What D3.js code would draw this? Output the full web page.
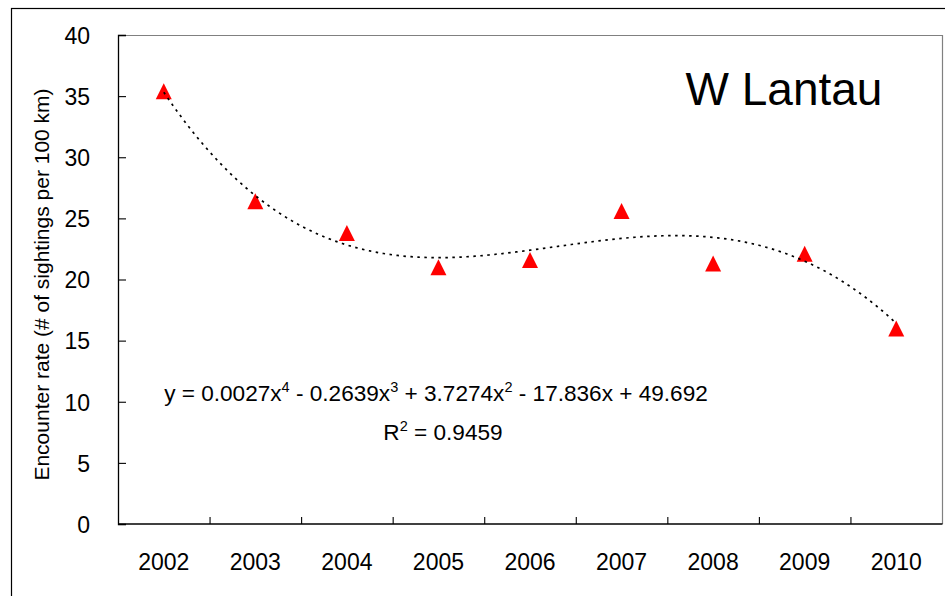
<!DOCTYPE html>
<html>
<head>
<meta charset="utf-8">
<script src="https://cdn.jsdelivr.net/npm/d3@7/dist/d3.min.js"></script>
<style>
  html, body { margin: 0; padding: 0; background: #fff; }
  svg { display: block; }
  text { font-family: "Liberation Sans", Arial, sans-serif; fill: #000; }
</style>
</head>
<body>
<svg id="chart" width="945" height="596"></svg>
<script>
// ---- data ----
const years = ["2002", "2003", "2004", "2005", "2006", "2007", "2008", "2009", "2010"];
const encounterRate = [35.4, 26.4, 23.8, 21.0, 21.6, 25.6, 21.3, 22.1, 16.0];
const yTicks = [0, 5, 10, 15, 20, 25, 30, 35, 40];
// 4th-order polynomial trendline coefficients shown on the chart (x = 1..9), highest power first
const trendCoef = [0.0027, -0.2639, 3.7274, -17.836, 49.692];
const titleText = "W Lantau";
const yAxisTitle = "Encounter rate (# of sightings per 100 km)";

// ---- layout ----
const svg = d3.select("#chart");
const L = 118, R = 942, T = 35, B = 524;

const x = d3.scaleBand().domain(years).range([L, R]).paddingInner(0).paddingOuter(0);
const y = d3.scaleLinear().domain([0, 40]).range([B, T]);
const xNum = d3.scaleLinear().domain([1, years.length])
  .range([x(years[0]) + x.bandwidth() / 2, x(years[years.length - 1]) + x.bandwidth() / 2]);

// outer chart border
svg.append("rect").attr("x", 11.5).attr("y", 8.5).attr("width", 1000).attr("height", 1000)
  .attr("fill", "none").attr("stroke", "#000").attr("stroke-width", 1.2);

// plot area top/right border (gray)
svg.append("path")
  .attr("d", `M${L},${T + 0.5}H${R + 0.5}V${B}`)
  .attr("fill", "none").attr("stroke", "#808080").attr("stroke-width", 1.2);

// y axis
const yAxis = svg.append("g").attr("transform", `translate(${L},0)`)
  .call(d3.axisLeft(y).tickValues(yTicks).tickSize(-8).tickPadding(28).tickFormat(d3.format("d")));
yAxis.select(".domain").attr("stroke", "#000").attr("stroke-width", 1.3);
yAxis.selectAll(".tick line").attr("stroke", "#000").attr("stroke-width", 1.1);
yAxis.selectAll(".tick text").attr("font-size", 23).attr("font-family", "Liberation Sans, Arial, sans-serif")
  .attr("fill", "#000").attr("dy", "0.36em");

// x axis (ticks at category boundaries, pointing inward)
const xAxisG = svg.append("g").attr("transform", `translate(0,${B})`);
xAxisG.append("line").attr("x1", L).attr("x2", R + 0.5).attr("y1", 0).attr("y2", 0)
  .attr("stroke", "#000").attr("stroke-width", 1.3);
xAxisG.selectAll("line.bt").data(years.slice(1))
  .join("line").attr("class", "bt")
  .attr("x1", d => x(d) + 0.5).attr("x2", d => x(d) + 0.5)
  .attr("y1", 0).attr("y2", -7).attr("stroke", "#000").attr("stroke-width", 1.1);
xAxisG.selectAll("text").data(years).join("text")
  .attr("x", d => x(d) + x.bandwidth() / 2)
  .attr("y", 46)
  .attr("text-anchor", "middle")
  .attr("font-size", 23)
  .text(d => d);

// y axis title
svg.append("text")
  .attr("transform", `translate(49,${(T + B) / 2 + 5}) rotate(-90)`)
  .attr("text-anchor", "middle")
  .attr("font-size", 21)
  .text(yAxisTitle);

// chart title
svg.append("text").attr("x", 784).attr("y", 105).attr("text-anchor", "middle")
  .attr("font-size", 46).text(titleText);

// data points (red triangles)
const tri = {
  draw(ctx, size) {
    const h = Math.sqrt(size) / 2;
    ctx.moveTo(0, -h);
    ctx.lineTo(h, h);
    ctx.lineTo(-h, h);
    ctx.closePath();
  }
};
svg.append("g").selectAll("path").data(encounterRate).join("path")
  .attr("transform", (d, i) => `translate(${x(years[i]) + x.bandwidth() / 2},${y(d)})`)
  .attr("d", d3.symbol(tri, 256))
  .attr("fill", "#ff0000");

// trendline (dotted) from the displayed polynomial
const poly = t => trendCoef.reduce((acc, c) => acc * t + c, 0);
const ts = d3.range(1, years.length + 0.001, 0.05);
svg.append("path")
  .datum(ts)
  .attr("d", d3.line().x(t => xNum(t)).y(t => y(poly(t))).curve(d3.curveMonotoneX))
  .attr("fill", "none").attr("stroke", "#000").attr("stroke-width", 1.7)
  .attr("stroke-dasharray", "2.5,4.5");

// equation text
const eq = svg.append("text").attr("x", 436).attr("y", 401).attr("text-anchor", "middle").attr("font-size", 22.6);
const parts = [["y = 0.0027x", "4"], [" - 0.2639x", "3"], [" + 3.7274x", "2"], [" - 17.836x + 49.692", null]];
let shift = 0;
parts.forEach(([base, sup]) => {
  eq.append("tspan").attr("dy", shift).text(base);
  shift = 0;
  if (sup) {
    eq.append("tspan").attr("font-size", 14.5).attr("dy", -9).text(sup);
    shift = 9;
  }
});
const r2 = svg.append("text").attr("x", 443).attr("y", 440).attr("text-anchor", "middle").attr("font-size", 22.6);
r2.append("tspan").text("R");
r2.append("tspan").attr("font-size", 14.5).attr("dy", -9).text("2");
r2.append("tspan").attr("dy", 9).text(" = 0.9459");
</script>
</body>
</html>
